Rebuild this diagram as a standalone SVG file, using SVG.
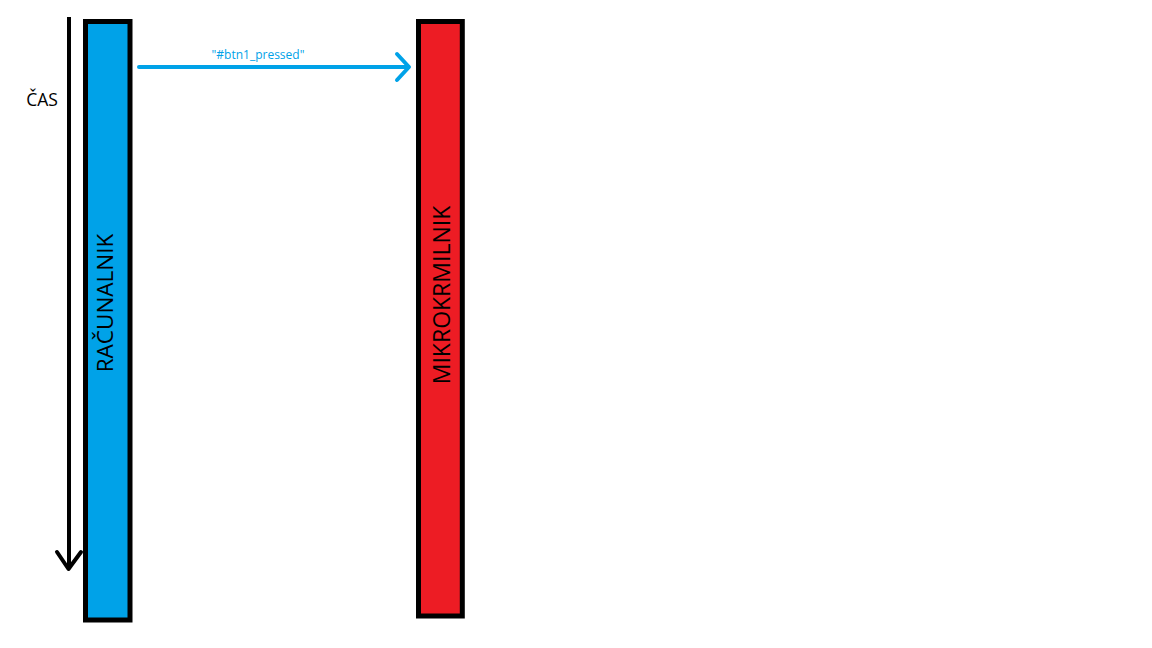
<svg xmlns="http://www.w3.org/2000/svg" width="1152" height="648" viewBox="0 0 1152 648">
<style>
.lbl{font-family:"Open Sans","Noto Sans",sans-serif;fill:#000}
.node{stroke:#000;stroke-width:5}
</style>
<rect width="1152" height="648" fill="#fff"/>
<g id="time-axis">
<line x1="69" y1="17" x2="69" y2="569" stroke="#000" stroke-width="4"/>
<polyline points="57,552 68.5,569 81,552" fill="none" stroke="#000" stroke-width="4" stroke-linecap="round" stroke-linejoin="round"/>
<text class="lbl" x="42" y="106" font-size="17.5" text-anchor="middle">ČAS</text>
</g>
<g id="racunalnik">
<rect class="node" x="85.5" y="21.5" width="44.5" height="598.5" fill="#00A2E8"/>
<text class="lbl" font-size="22.5" text-anchor="middle" transform="translate(112.5,303) rotate(-90)">RAČUNALNIK</text>
</g>
<g id="mikrokrmilnik">
<rect class="node" x="418.5" y="21.5" width="43.8" height="594.5" fill="#ED1C24"/>
<text class="lbl" font-size="23" text-anchor="middle" transform="translate(449.5,295) rotate(-90)">MIKROKRMILNIK</text>
</g>
<g id="connectors">
<line x1="139" y1="67" x2="408" y2="67" stroke="#00A2E8" stroke-width="4" stroke-linecap="round"/>
<polyline points="397,54 409,67 397,80" fill="none" stroke="#00A2E8" stroke-width="4" stroke-linecap="round" stroke-linejoin="round"/>
<text x="258" y="59" font-family="'Open Sans','Noto Sans',sans-serif" font-size="12" fill="#00A2E8" text-anchor="middle">"#btn1_pressed"</text>
</g>
</svg>
